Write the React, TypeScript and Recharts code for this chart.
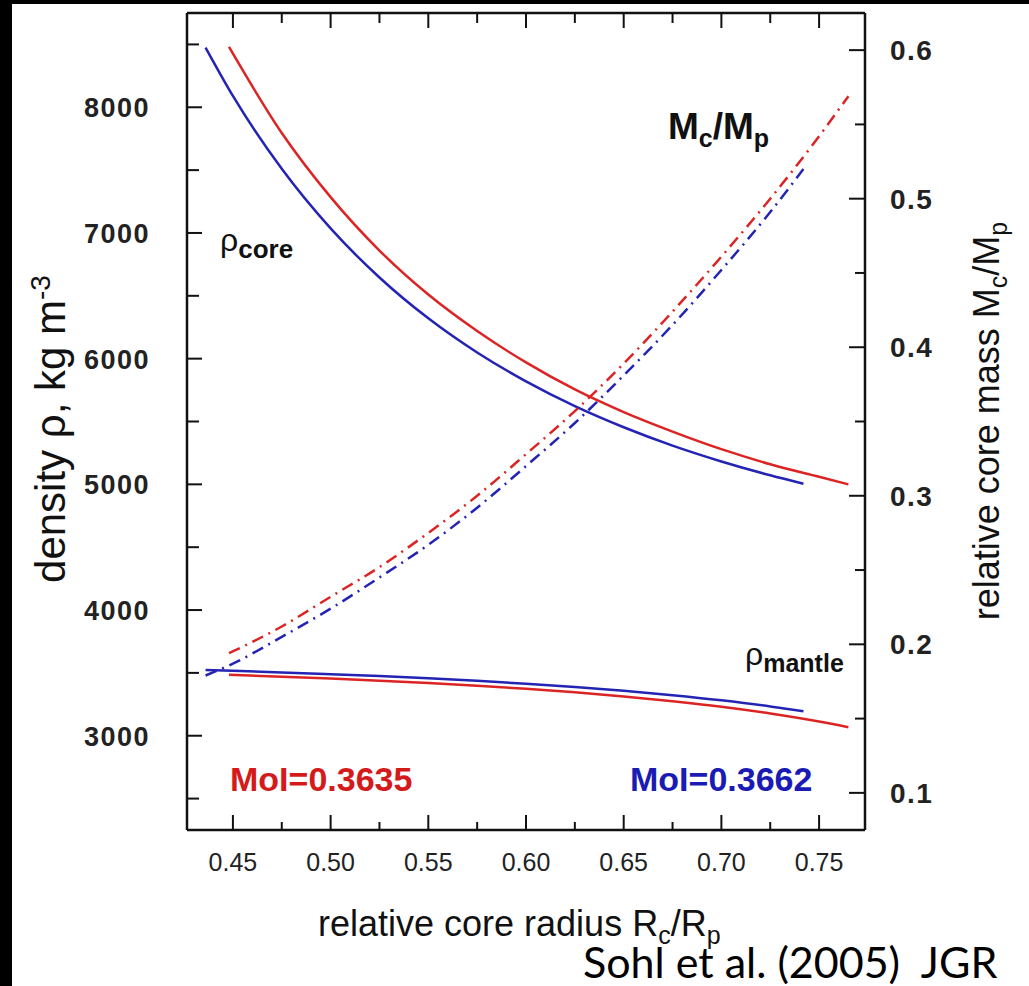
import { LineChart, Line, XAxis, YAxis } from 'recharts'

// relative core radius Rc/Rp for each MoI model
const radiusRed = [0.448, 0.475, 0.5, 0.525, 0.55, 0.575, 0.6, 0.625, 0.65, 0.675, 0.7, 0.725, 0.75, 0.765]
const radiusBlue = [0.436, 0.45, 0.475, 0.5, 0.525, 0.55, 0.575, 0.6, 0.625, 0.65, 0.675, 0.7, 0.725, 0.742]

// MoI = 0.3635 (red)
const coreRed = [8480, 7795, 7285, 6860, 6510, 6220, 5970, 5755, 5575, 5420, 5280, 5160, 5060, 5000]
const mantleRed = [3485, 3470, 3455, 3438, 3419, 3397, 3373, 3345, 3312, 3274, 3230, 3177, 3113, 3068]
const massRed = [0.194, 0.212, 0.232, 0.252, 0.275, 0.3, 0.328, 0.357, 0.389, 0.424, 0.461, 0.5, 0.542, 0.569]

// MoI = 0.3662 (blue)
const coreBlue = [8475, 8090, 7510, 7036, 6646, 6321, 6049, 5819, 5622, 5454, 5308, 5182, 5072, 5005]
const mantleBlue = [3523, 3517, 3504, 3490, 3475, 3457, 3437, 3414, 3388, 3358, 3323, 3282, 3233, 3194]
const massBlue = [0.179, 0.187, 0.205, 0.224, 0.245, 0.267, 0.292, 0.32, 0.349, 0.381, 0.415, 0.452, 0.491, 0.52]

const xMajor = [0.45, 0.5, 0.55, 0.6, 0.65, 0.7, 0.75]
const xMinor = [0.475, 0.525, 0.575, 0.625, 0.675, 0.725]
const rhoMajor = [3000, 4000, 5000, 6000, 7000, 8000]
const rhoMinor = [2500, 3500, 4500, 5500, 6500, 7500, 8500]
const massMajor = [0.1, 0.2, 0.3, 0.4, 0.5, 0.6]
const massMinor = [0.15, 0.25, 0.35, 0.45, 0.55]

const RED = '#dc2424'
const BLUE = '#2424b4'
const FONT = '"Liberation Sans", Arial, Helvetica, sans-serif'

const zip = (xs: number[], ys: number[]) => xs.map((x, i) => ({ x, y: ys[i] }))

const sorted = (a: number[], b: number[]) => [...a, ...b].sort((p, q) => p - q)
const isMajor = (list: number[], v: number) => list.some(m => Math.abs(m - v) < 1e-6)

function BottomTick({ x, y, payload }: any) {
  const major = isMajor(xMajor, payload.value)
  return (
    <g>
      <line x1={x} y1={y} x2={x} y2={y - (major ? 15 : 8)} stroke="#111" strokeWidth={2} />
      {major && (
        <text x={x} y={y + 41} textAnchor="middle" fontSize={25} fontFamily={FONT} fill="#222">
          {payload.value.toFixed(2)}
        </text>
      )}
    </g>
  )
}

function TopTick({ x, y, payload }: any) {
  const major = isMajor(xMajor, payload.value)
  return <line x1={x} y1={y} x2={x} y2={y + (major ? 15 : 10)} stroke="#111" strokeWidth={2} />
}

function LeftTick({ x, y, payload }: any) {
  const major = isMajor(rhoMajor, payload.value)
  return (
    <g>
      <line x1={x} y1={y} x2={x + (major ? 15 : 12)} y2={y} stroke="#111" strokeWidth={2} />
      {major && (
        <text x={x - 37} y={y + 10} textAnchor="end" fontSize={27} fontWeight="bold"
          fontFamily={FONT} letterSpacing={1.5} fill="#222">
          {payload.value}
        </text>
      )}
    </g>
  )
}

function RightTick({ x, y, payload }: any) {
  const major = isMajor(massMajor, payload.value)
  return (
    <g>
      <line x1={x} y1={y} x2={x - (major ? 16 : 10)} y2={y} stroke="#111" strokeWidth={2} />
      {major && (
        <text x={x + 25} y={y + 10} textAnchor="start" fontSize={28} fontWeight="bold"
          fontFamily={FONT} letterSpacing={1.5} fill="#222">
          {payload.value.toFixed(1)}
        </text>
      )}
    </g>
  )
}

const abs = (left: number, top: number, extra: React.CSSProperties = {}): React.CSSProperties => ({
  position: 'absolute', left, top, whiteSpace: 'nowrap', lineHeight: 1, fontFamily: FONT, ...extra,
})

export default function App() {
  const dash = '12 6 2 6'
  return (
    <div style={{ position: 'absolute', left: 0, top: 0, width: 1029, height: 986, background: '#fff', overflow: 'hidden' }}>
      <div style={{ position: 'absolute', left: 0, top: 0, width: 1029, height: 4, background: '#000' }} />
      <div style={{ position: 'absolute', left: 0, top: 0, width: 12, height: 986, background: '#000' }} />

      <div style={{ position: 'absolute', left: 0, top: 0 }}>
        <LineChart width={1029} height={986} margin={{ top: 0, right: 0, bottom: 0, left: 0 }}>
          <XAxis xAxisId="bottom" type="number" dataKey="x" domain={[0.4265, 0.7735]} allowDataOverflow
            ticks={sorted(xMajor, xMinor)} interval={0} height={156} tickSize={0} tickMargin={0}
            tickLine={false} axisLine={{ stroke: '#111', strokeWidth: 2.5 }} tick={<BottomTick />} />
          <XAxis xAxisId="top" orientation="top" type="number" dataKey="x" domain={[0.4265, 0.7735]} allowDataOverflow
            ticks={sorted(xMajor, xMinor)} interval={0} height={13} tickSize={0} tickMargin={0}
            tickLine={false} axisLine={{ stroke: '#111', strokeWidth: 2.5 }} tick={<TopTick />} />
          <YAxis yAxisId="rho" type="number" domain={[2250, 8750]} allowDataOverflow
            ticks={sorted(rhoMajor, rhoMinor)} interval={0} width={187} tickSize={0} tickMargin={0}
            tickLine={false} axisLine={{ stroke: '#111', strokeWidth: 2.5 }} tick={<LeftTick />} />
          <YAxis yAxisId="mass" orientation="right" type="number" domain={[0.075, 0.625]} allowDataOverflow
            ticks={sorted(massMajor, massMinor)} interval={0} width={164} tickSize={0} tickMargin={0}
            tickLine={false} axisLine={{ stroke: '#111', strokeWidth: 2.5 }} tick={<RightTick />} />

          <Line data={zip(radiusRed, coreRed)} xAxisId="bottom" yAxisId="rho" dataKey="y" type="monotone"
            stroke={RED} strokeWidth={2.5} dot={false} isAnimationActive={false} />
          <Line data={zip(radiusBlue, coreBlue)} xAxisId="bottom" yAxisId="rho" dataKey="y" type="monotone"
            stroke={BLUE} strokeWidth={2.5} dot={false} isAnimationActive={false} />
          <Line data={zip(radiusRed, mantleRed)} xAxisId="bottom" yAxisId="rho" dataKey="y" type="monotone"
            stroke={RED} strokeWidth={2.5} dot={false} isAnimationActive={false} />
          <Line data={zip(radiusBlue, mantleBlue)} xAxisId="bottom" yAxisId="rho" dataKey="y" type="monotone"
            stroke={BLUE} strokeWidth={2.5} dot={false} isAnimationActive={false} />
          <Line data={zip(radiusRed, massRed)} xAxisId="bottom" yAxisId="mass" dataKey="y" type="monotone"
            stroke={RED} strokeWidth={2.5} strokeDasharray={dash} dot={false} isAnimationActive={false} />
          <Line data={zip(radiusBlue, massBlue)} xAxisId="bottom" yAxisId="mass" dataKey="y" type="monotone"
            stroke={BLUE} strokeWidth={2.5} strokeDasharray={dash} dot={false} isAnimationActive={false} />
        </LineChart>
      </div>

      {/* annotations */}
      <div style={abs(668, 108, { fontSize: 37, fontWeight: 'bold', color: '#111' })}>
        M<sub style={{ fontSize: 25 }}>c</sub>/M<sub style={{ fontSize: 25 }}>p</sub>
      </div>
      <div style={abs(220, 224, { fontSize: 32, color: '#111' })}>
        ρ<sub style={{ fontSize: 26, fontWeight: 'bold' }}>core</sub>
      </div>
      <div style={abs(745, 638, { fontSize: 32, color: '#111' })}>
        ρ<sub style={{ fontSize: 25, fontWeight: 'bold' }}>mantle</sub>
      </div>
      <div style={abs(230, 762, { fontSize: 34, fontWeight: 'bold', color: '#d41a1a' })}>MoI=0.3635</div>
      <div style={abs(630, 762, { fontSize: 34, fontWeight: 'bold', color: '#1a1ab4' })}>MoI=0.3662</div>

      {/* axis titles */}
      <div style={abs(318, 906, { fontSize: 36, color: '#111' })}>
        relative core radius R<sub style={{ fontSize: 25 }}>c</sub>/R<sub style={{ fontSize: 25 }}>p</sub>
      </div>
      <div style={abs(49, 429, { fontSize: 42, color: '#111', transform: 'translate(-50%, -50%) rotate(-90deg)' })}>
        density ρ, kg m<sup style={{ fontSize: 28 }}>-3</sup>
      </div>
      <div style={abs(990, 421, { fontSize: 36, color: '#111', transform: 'translate(-50%, -50%) rotate(-90deg)' })}>
        relative core mass M<sub style={{ fontSize: 25 }}>c</sub>/M<sub style={{ fontSize: 25 }}>p</sub>
      </div>

      <div style={abs(583, 940, { fontSize: 43, color: '#000', fontFamily: 'Lato, "Open Sans", sans-serif' })}>
        Sohl et al. (2005)&nbsp; JGR
      </div>
    </div>
  )
}
